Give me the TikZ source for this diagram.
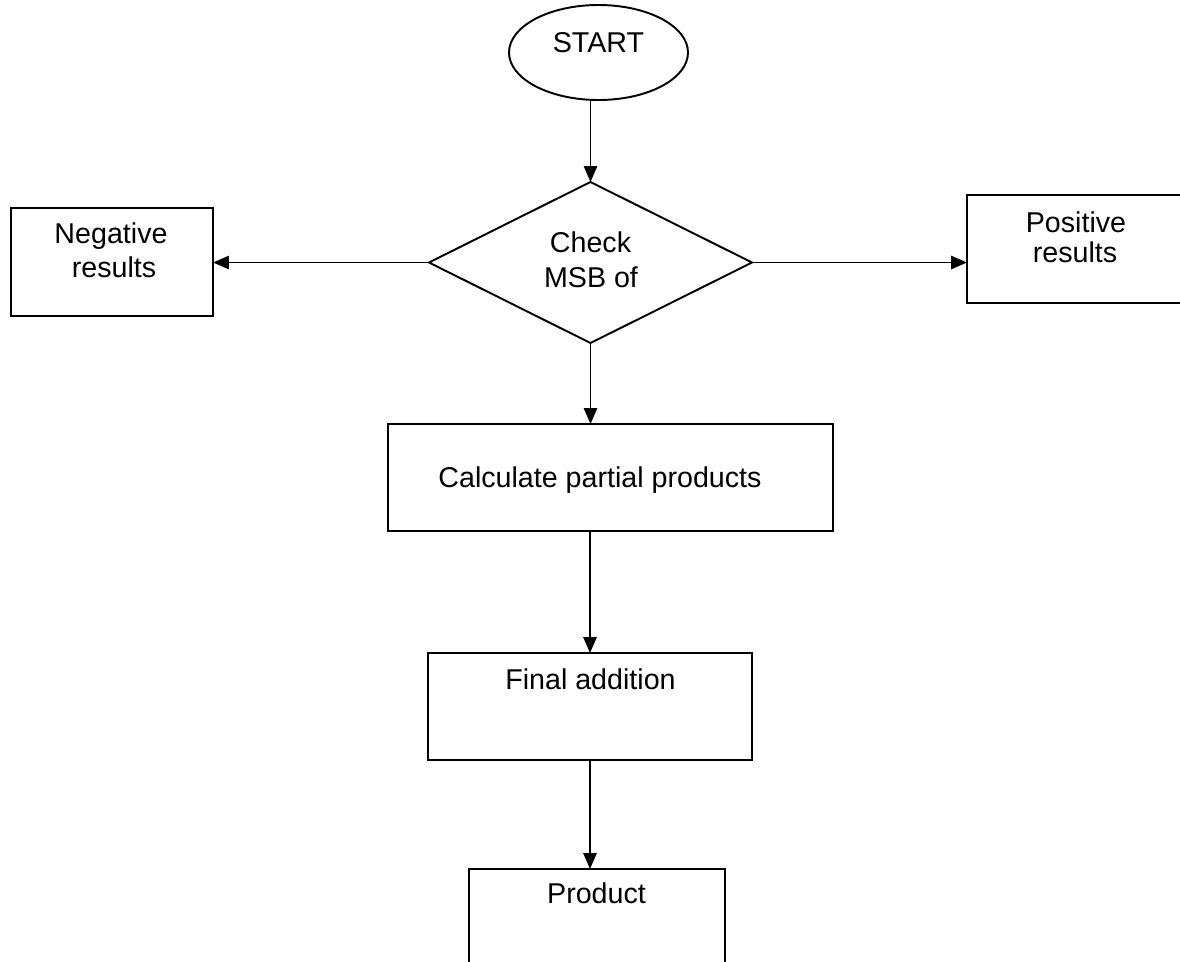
\documentclass[tikz,border=0pt]{standalone}
\usepackage{fontspec}
\setmainfont{Liberation Sans}
\usetikzlibrary{shapes.geometric,arrows.meta}

\begin{document}
\begin{tikzpicture}[x=0.02cm,y=-0.02cm,
    line width=1.1pt,
    every node/.style={inner sep=0pt, outer sep=0pt},
    box/.style={draw, rectangle},
    txt/.style={anchor=base, font=\fontsize{16.3}{19.5}\selectfont},
    arr/.style={-{Triangle[length=9pt,width=7.5pt]}}]

  % page frame
  \useasboundingbox (0,0) rectangle (1180,961);
  \clip (0,0) rectangle (1180,961);

  % shapes
  \node[draw, ellipse, minimum width=179*0.02cm, minimum height=95*0.02cm] (start) at (598.5,52.5) {};
  \node[draw, diamond, minimum width=323*0.02cm, minimum height=161*0.02cm] (check) at (590.5,262.5) {};
  \node[box, minimum width=202*0.02cm, minimum height=108*0.02cm] (neg) at (112,262) {};
  \node[box, minimum width=218*0.02cm, minimum height=108*0.02cm] (pos) at (1076,249) {};
  \node[box, minimum width=445*0.02cm, minimum height=107*0.02cm] (calc) at (610.5,477.5) {};
  \node[box, minimum width=324*0.02cm, minimum height=107*0.02cm] (final) at (590,706.5) {};
  \node[box, minimum width=256*0.02cm, minimum height=106*0.02cm] (prod) at (597,922) {};

  % texts
  \node[txt] (tstart) at (598.5,52) {START};
  \node[txt] (tcheck1) at (590.5,252) {Check};
  \node[txt] (tcheck2) at (591,287) {MSB of};
  \node[txt] (tneg1) at (111,243) {Negative};
  \node[txt] (tneg2) at (114,277) {results};
  \node[txt] (tpos1) at (1076,232) {Positive};
  \node[txt] (tpos2) at (1075,262) {results};
  \node[txt] (tcalc) at (600,487) {Calculate partial products};
  \node[txt] (tfinal) at (590.5,689) {Final addition};
  \node[txt] (tprod) at (596.5,903) {Product};

  % connectors
  \draw[arr] (check.north |- start.south) -- (check.north);
  \draw[arr] (check.west) -- (neg.east |- check.west);
  \draw[arr] (check.east) -- (pos.west |- check.east);
  \draw[arr] (check.south) -- (check.south |- calc.north);
  \draw[arr] (final.north |- calc.south) -- (final.north);
  \draw[arr] (final.south) -- (final.south |- prod.north);
\end{tikzpicture}
\end{document}
